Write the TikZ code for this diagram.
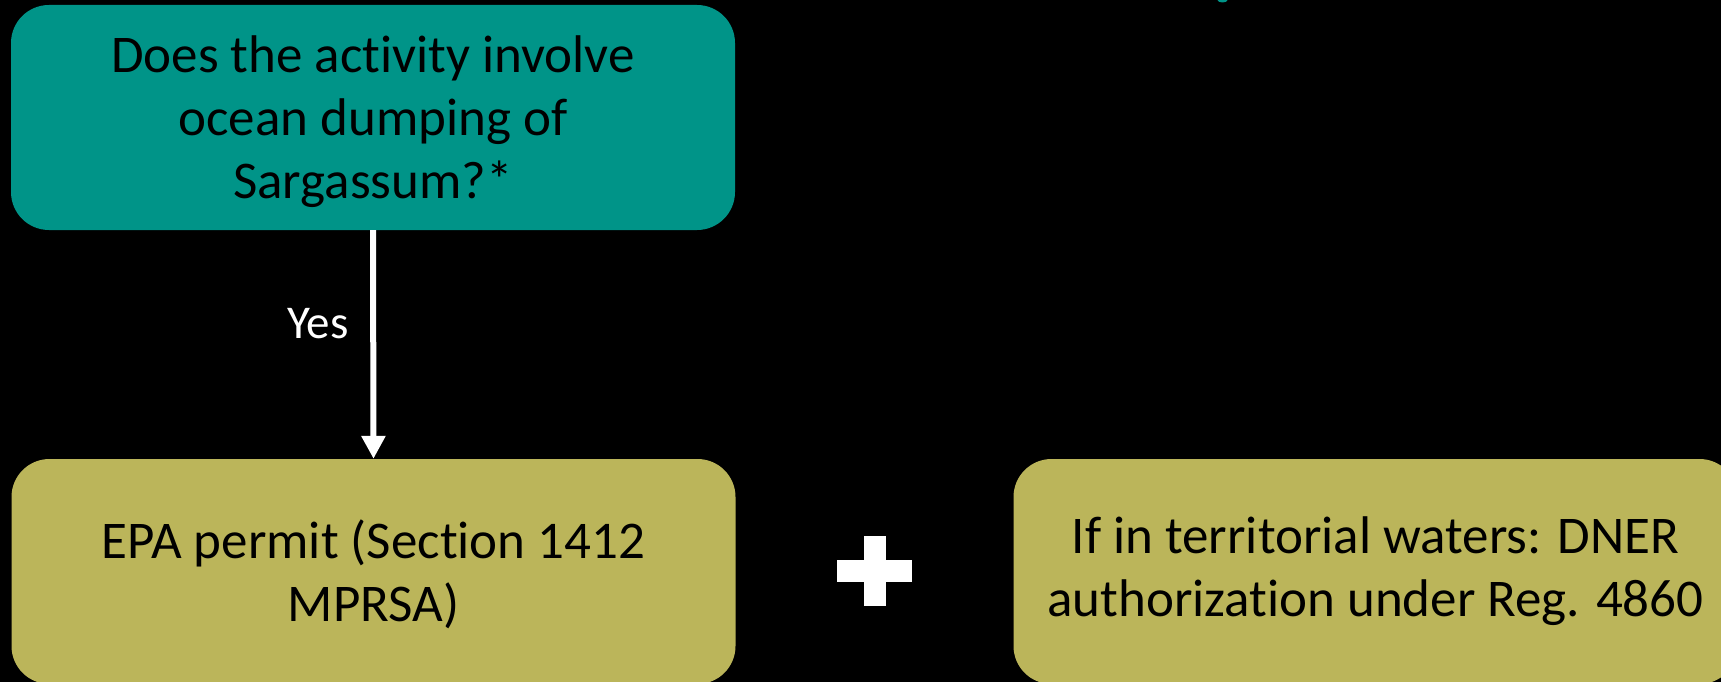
\documentclass[tikz,border=0pt]{standalone}
\usepackage{fontspec}
\setmainfont{Carlito}[Ligatures=NoCommon]
\usetikzlibrary{arrows.meta}
\definecolor{tealbox}{RGB}{0,148,136}
\definecolor{olivebox}{RGB}{187,181,90}
\newcommand\boxtxt[2]{\raisebox{-#1}[\height][\depth]{\begin{tabular}{@{}c@{}}#2\end{tabular}}}
\tikzset{
  x=1pt, y=-1pt,
  boxbase/.style={rectangle, rounded corners=38pt, minimum width=724pt, minimum height=225pt,
    text=black, inner sep=0pt, font=\fontsize{53}{63}\selectfont},
  qbox/.style={boxbase, fill=tealbox},
  abox/.style={boxbase, fill=olivebox},
  conn/.style={draw=white, line width=6pt, -{Triangle[width=23pt,length=23pt]}},
  lbl/.style={text=white, font=\fontsize{47}{54}\selectfont, inner sep=0pt}
}
\begin{document}
\begin{tikzpicture}
\fill[black] (0,0) rectangle (1721,682);
\useasboundingbox (0,0) rectangle (1721,682);
\fill[tealbox] (1222.5,0) ellipse [x radius=5pt, y radius=2.5pt];
\node[qbox] (q) at (373,117.5) {\boxtxt{5.5pt}{Does the activity involve\\ocean dumping of\\Sargassum?*}};
\node[abox] (epa) at (373.5,571.5) {\boxtxt{5.5pt}{EPA permit (Section 1412\\MPRSA)}};
\node[abox] (dner) at (1375.5,571.5) {\boxtxt{1pt}{If in territorial waters: DNER\\authorization under Reg. 4860}};
\draw[conn] (q.south) -- (epa.north);
\node[lbl] (yes) at (318,324) {Yes};
\fill[white] (864,536) rectangle (886,606);
\fill[white] (837,560) rectangle (912,582);
\end{tikzpicture}
\end{document}
